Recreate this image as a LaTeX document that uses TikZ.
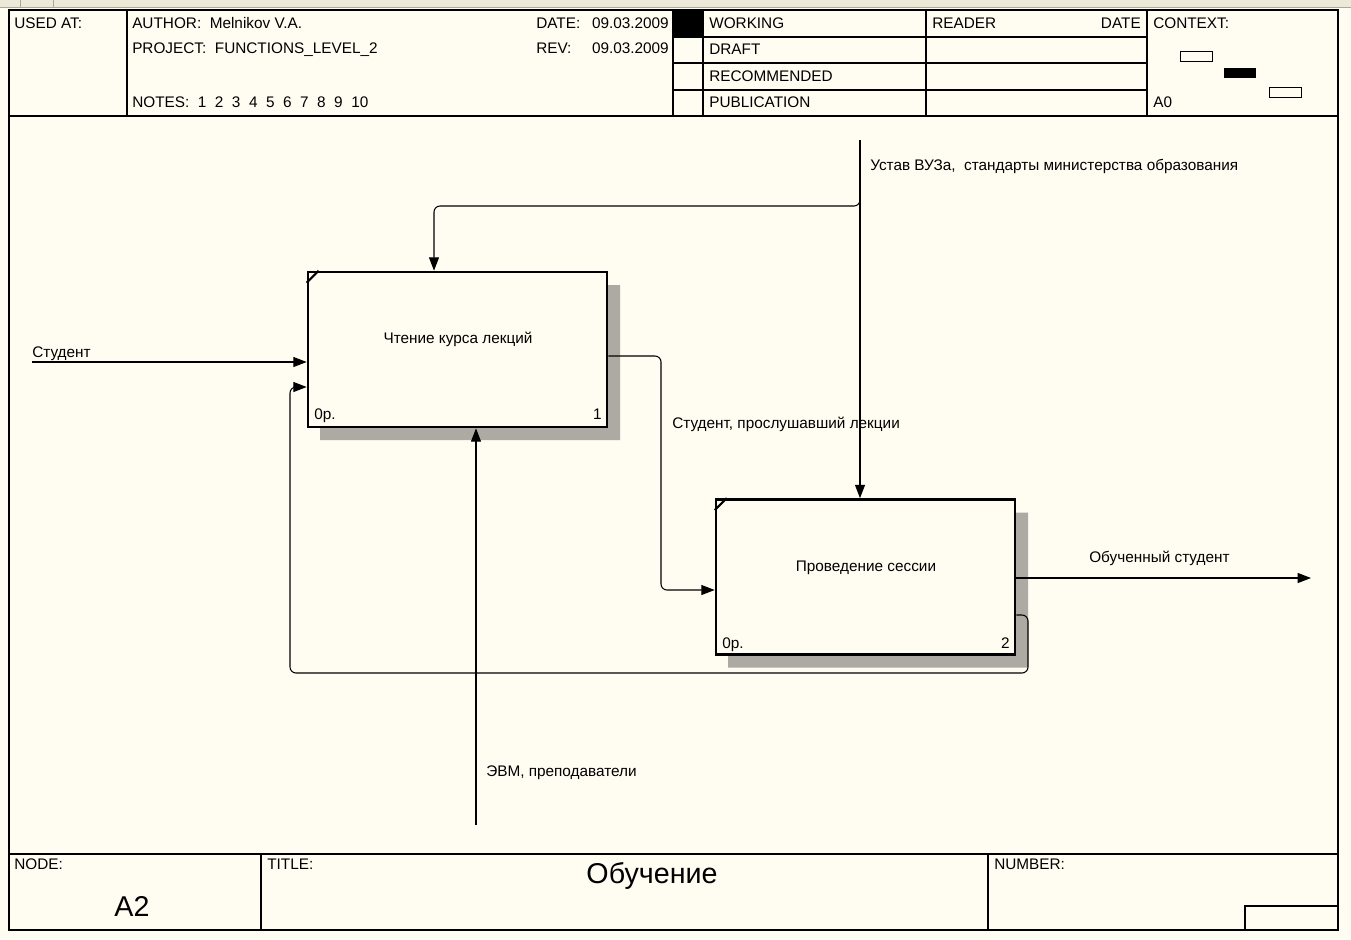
\documentclass[tikz,border=0pt]{standalone}
\usepackage{fontspec}
\setmainfont{Liberation Sans}
\usetikzlibrary{arrows.meta}
\definecolor{paper}{RGB}{255,253,242}
\definecolor{chrome}{RGB}{236,233,216}
\definecolor{chromeline}{RGB}{172,168,153}
\definecolor{shadowgray}{RGB}{172,170,162}
\begin{document}
\begin{tikzpicture}[x=0.75pt,y=-0.75pt,
  every node/.style={inner sep=0pt,font=\fontsize{11.5}{13}\selectfont},
  txt/.style={anchor=base west},
  txtr/.style={anchor=base east},
  frm/.style={line width=0.9pt},
  arr/.style={line width=0.8pt,-{Triangle[length=10pt,width=7.5pt]}},
  rc/.style={rounded corners=4.5pt},
  fbox/.style={draw,line width=2pt,fill=paper,minimum width=224.25pt,minimum height=116.25pt},
  big/.style={font=\fontsize{21.5}{24}\selectfont}]
\useasboundingbox (0,0) rectangle (1351,939);
\fill[paper] (0,0) rectangle (1351,939);
% window chrome strip
\fill[chrome] (0,0) rectangle (1351,7.5);
\draw[chromeline,line width=0.8pt] (0,7.5) -- (1351,7.5);
\draw[chromeline,line width=0.6pt] (20,0) -- (20,7) (53,0) -- (53,7);
% frame
\draw[frm] (9,10) rectangle (1338,930);
\draw[frm] (9,116) -- (1338,116);
\draw[frm] (9,854) -- (1338,854);
% header grid
\draw[frm] (127,10) -- (127,116);
\draw[frm] (673,10) -- (673,116);
\draw[frm] (703,10) -- (703,116);
\draw[frm] (926,10) -- (926,116);
\draw[frm] (1147,10) -- (1147,116);
\draw[frm] (673,37) -- (1147,37);
\draw[frm] (673,63) -- (1147,63);
\draw[frm] (673,90) -- (1147,90);
\fill (673,10) rectangle (703,37);
% context thumbnails
\draw[line width=0.7pt] (1180,51) rectangle (1212,61);
\fill (1224,68) rectangle (1256,78);
\draw[line width=0.7pt] (1269,87) rectangle (1301,97);
% header texts
\node[txt] (usedat) at (14,28.5) {USED AT:};
\node[txt] (author) at (132,28.5) {AUTHOR:~~Melnikov V.A.};
\node[txt] (project) at (132,53) {PROJECT:~~FUNCTIONS\_LEVEL\_2};
\node[txt] (notes) at (132,107.5) {NOTES:~~1~~2~~3~~4~~5~~6~~7~~8~~9~~10};
\node[txt] (datel) at (536,28.5) {DATE:};
\node[txtr] (datev) at (669,28.5) {09.03.2009};
\node[txt] (revl) at (536,53) {REV:};
\node[txtr] (revv) at (669,53) {09.03.2009};
\node[txt] (working) at (709,28.5) {WORKING};
\node[txt] (draft) at (709,54.5) {DRAFT};
\node[txt] (recom) at (709,81.5) {RECOMMENDED};
\node[txt] (publ) at (709,107.5) {PUBLICATION};
\node[txt] (reader) at (932,28.5) {READER};
\node[txtr] (rdate) at (1141,28.5) {DATE};
\node[txt] (context) at (1153,28.5) {CONTEXT:};
\node[txt] (azero) at (1153,107.5) {A0};
% footer
\draw[frm] (261,854) -- (261,930);
\draw[frm] (988,854) -- (988,930);
\draw[frm] (1245,906) rectangle (1338,930);
\node[txt] (nodel) at (14,869) {NODE:};
\node[txt] (titlel) at (267,869) {TITLE:};
\node[txt] (numberl) at (994,869) {NUMBER:};
\node[big,anchor=base] (nodev) at (132,916) {A2};
\node[big,anchor=base] (titlev) at (652,883) {Обучение};
% shadows
\fill[shadowgray] (607,285) -- (620,285) -- (620,440) -- (320,440) -- (320,427) -- (607,427) -- cycle;
\fill[shadowgray] (1015,512.5) -- (1028,512.5) -- (1028,667.5) -- (728,667.5) -- (728,654.5) -- (1015,654.5) -- cycle;
% boxes
\node[fbox] (b1) at (457.5,349.5) {};
\node[fbox] (b2) at (865.5,577) {};
\draw[line width=1.6pt] (b1.north west) ++(0,12) -- ++(12,-12);
\draw[line width=1.6pt] (b2.north west) ++(0,12) -- ++(12,-12);
\node[anchor=base] (b1t) at (458,343) {Чтение курса лекций};
\node[txt] (b1c) at (314,419) {0р.};
\node[txtr] (b1n) at (602,419) {1};
\node[anchor=base] (b2t) at (866,571) {Проведение сессии};
\node[txt] (b2c) at (722,648) {0р.};
\node[txtr] (b2n) at (1010,648) {2};
% connectors
\coordinate (stIn) at (32,362);
\draw[arr] (stIn) -- (stIn -| b1.west);
\node[txt] (lstud) at (32,357) {Студент};

\coordinate (ctrlTop) at (860,140);
\draw[arr] (ctrlTop) -- (ctrlTop |- b2.north);
\coordinate (brA) at (860,194);
\coordinate (brB) at (860,206);
\coordinate (brC) at (434,206);
\draw[arr,rc] (brA) -- (brB) -- (brC) -- (brC |- b1.north);
\node[txt] (lctrl) at (870,170) {Устав ВУЗа,~~стандарты министерства образования};

\coordinate (mechBot) at (476,825);
\draw[arr] (mechBot) -- (mechBot |- b1.south);
\node[txt] (lmech) at (486,776) {ЭВМ, преподаватели};

\coordinate (o1a) at (b1.east |- 0,356);
\coordinate (o1b) at (661,356);
\coordinate (o1c) at (661,590);
\draw[arr,rc] (o1a) -- (o1b) -- (o1c) -- (o1c -| b2.west);
\node[txt] (lmid) at (672,428) {Студент, прослушавший лекции};

\coordinate (outA) at (b2.east |- 0,578);
\coordinate (outEnd) at (1311,578);
\draw[arr] (outA) -- (outEnd);
\node[txt] (lout) at (1089,562) {Обученный студент};

\coordinate (fbA) at (b2.east |- 0,615);
\coordinate (fbB) at (1028,615);
\coordinate (fbC) at (1028,673);
\coordinate (fbD) at (290,673);
\coordinate (fbE) at (290,387);
\draw[arr,rc] (fbA) -- (fbB) -- (fbC) -- (fbD) -- (fbE) -- (fbE -| b1.west);
\end{tikzpicture}
\end{document}
